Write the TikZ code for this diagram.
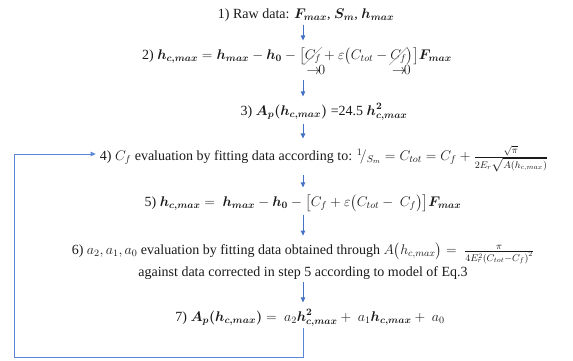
\documentclass[tikz,border=0pt,12pt]{standalone}
\usepackage{amsmath,amssymb}
\usepackage{mathtools}
\usepackage{bm}
\usepackage{cancel}
\usepackage{fix-cm}
\usepackage{fontspec}
\setmainfont{Liberation Serif}
\usepackage{tikz}
\usepackage{xcolor}
\usetikzlibrary{arrows.meta,positioning,calc}
\definecolor{flowblue}{HTML}{4472C4}
\definecolor{loopblue}{HTML}{5B86D6}
\definecolor{ink}{HTML}{1A1A1A}
\renewcommand{\CancelColor}{\color{ink!75}}
\newcommand{\tozero}[1]{\underset{\mathrlap{\kern-0.45em\textstyle{\rightarrow}\!0}}{\cancel{#1}}}
\tikzset{
  stepline/.style={text=ink,align=center,inner sep=1pt,
                   font=\fontsize{14}{17}\selectfont},
  flowarr/.style={-{Triangle[length=1.8mm,width=1.6mm]},line width=1pt,
                  draw=flowblue,shorten <=2pt,shorten >=6pt},
  looparr/.style={-{Triangle[length=1.8mm,width=1.6mm]},line width=1pt,
                  draw=loopblue}
}

\begin{document}
\begin{tikzpicture}[x=1pt,y=-1pt,>=Stealth]
    \path[use as bounding box] (0,0) rectangle (573,360);

    \coordinate (axis) at (303,0);
    \coordinate (loopcorner) at (14,357);

    \node[stepline] (raw) at (306,15)
      {1) Raw data: $\bm{F_{max}}$, $\bm{S_m}$, $\bm{h_{max}}$};
    \node[stepline] (hcone) at (297,62)
      {2) $\bm{h_{c,max}} = \bm{h_{max}} - \bm{h_0} - \bigl[\tozero{C_f} + \varepsilon\bigl(C_{tot} - \tozero{C_f}\bigr)\bigr]\bm{F_{max}}$};
    \node[stepline] (area) at (324,112)
      {3) $\bm{A_p(h_{c,max})}$ =24.5 $\bm{h^2_{c,max}}$};
    \node[stepline] (cfit) at (324,159)
      {4) $C_f$ evaluation by fitting data according to: ${}^1\!/_{S_m} = C_{tot} = C_f + \frac{\sqrt{\pi}}{2E_r\sqrt{A(h_{c,max})}}$};
    \node[stepline] (hctwo) at (303,203)
      {5) $\bm{h_{c,max}} = \ \bm{h_{max}} - \bm{h_0} - \bigl[C_f + \varepsilon\bigl(C_{tot} - \ C_f\bigr)\bigr]\bm{F_{max}}$};
    \node[stepline] (afit) at (303,261)
      {6) $a_2, a_1, a_0$ evaluation by fitting data obtained through $A\bigl(h_{c,max}\bigr) = \ \frac{\pi}{4E_r^2\left(C_{tot}-C_f\right)^2}$\\[1pt]
       against data corrected in step 5 according to model of Eq.3};
    \node[stepline] (model) at (310,318)
      {7) $\bm{A_p(h_{c,max})} = \ a_2\bm{h^2_{c,max}} + \ a_1\bm{h_{c,max}} + \ a_0$};

    \draw[flowarr] (raw.south -| axis) -- (hcone.north -| axis);
    \draw[flowarr] (hcone.south -| axis) -- (area.north -| axis);
    \draw[flowarr] (area.south -| axis) -- (cfit.north -| axis);
    \draw[flowarr] (cfit.south -| axis) -- (hctwo.north -| axis);
    \draw[flowarr] (hctwo.south -| axis) -- (afit.north -| axis);
    \draw[flowarr] (afit.south -| axis) -- (model.north -| axis);
    \draw[looparr] (model.south -| axis) |- (loopcorner) |- ([xshift=-3pt,yshift=5pt]cfit.west);
  \end{tikzpicture}
\end{document}
